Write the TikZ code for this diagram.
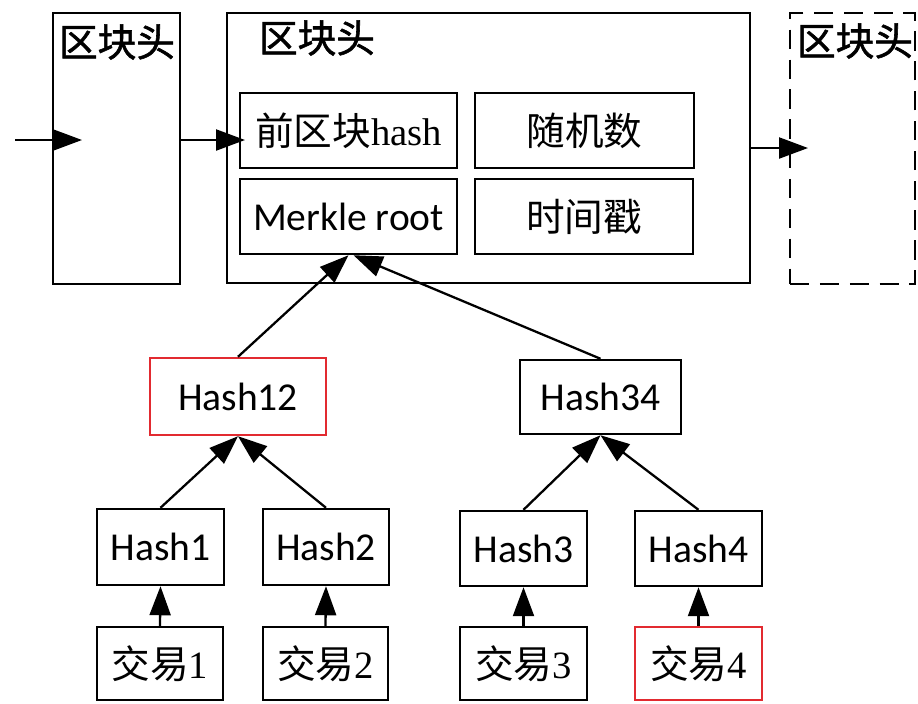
\documentclass[tikz,border=0pt]{standalone}
\usepackage{fontspec}
\setmainfont{Liberation Serif}
\setsansfont{Carlito}
\newfontfamily\cjk{Noto Sans CJK SC}
\newfontfamily\cjkhead[FakeBold=1.5]{Noto Sans CJK SC}
\usetikzlibrary{arrows.meta}
\definecolor{hilite}{RGB}{226,42,48}
\begin{document}
\begin{tikzpicture}[
    blk/.style 2 args={draw,line width=1.4pt,inner sep=0pt,
      minimum width=#1*0.02cm,minimum height=#2*0.02cm,
      font=\sffamily\fontsize{22.5}{26}\selectfont},
    tx/.style={font=\rmfamily\fontsize{22}{26}\selectfont},
    head/.style={inner sep=0pt,font=\cjkhead\fontsize{22}{26}\selectfont},
    arr/.style={-{Triangle[length=0.58cm,width=0.42cm]},line width=1.3pt}]
    \def\x{0.02}
    \def\y{-0.02}
    \useasboundingbox (0,0) rectangle (918*\x, 703*\y);
    % block headers
    \node [blk={127}{271}] (A0_0) at (116.5*\x, 148.5*\y) {};
    \node [blk={523}{270}] (A0_1) at (488.5*\x, 148*\y) {};
    \node [blk={125}{271},dash pattern=on 11pt off 6pt] (A0_2) at (852.5*\x, 148.5*\y) {};
    \node [head] (T0_0) at (117*\x, 42*\y) {区块头};
    \node [head] (T0_1) at (317*\x, 38*\y) {区块头};
    \node [head] (T0_2) at (855*\x, 41*\y) {区块头};
    % fields
    \node [blk={217}{75},tx] (A1_0) at (348.5*\x, 130.5*\y) {{\cjk 前区块}hash};
    \node [blk={219}{75}] (A1_1) at (584.5*\x, 130.5*\y) {\cjk\fontsize{22}{26}\selectfont 随机数};
    \node [blk={217}{75}] (A2_0) at (348.5*\x, 216.5*\y) {Merkle root};
    \node [blk={218}{75}] (A2_1) at (584*\x, 216.5*\y) {\cjk\fontsize{22}{26}\selectfont 时间戳};
    % tree
    \node [blk={176}{77},draw=hilite] (A3_0) at (238*\x, 396.5*\y) {Hash12};
    \node [blk={161}{74}] (A3_1) at (600.5*\x, 397*\y) {Hash34};
    \node [blk={127}{76}] (A4_0) at (160.5*\x, 547*\y) {Hash1};
    \node [blk={126}{76}] (A4_1) at (326*\x, 547*\y) {Hash2};
    \node [blk={127}{75}] (A4_2) at (523.5*\x, 548.5*\y) {Hash3};
    \node [blk={127}{75}] (A4_3) at (698.5*\x, 548.5*\y) {Hash4};
    \node [blk={126}{73},tx] (A5_0) at (160*\x, 663.5*\y) {{\cjk 交易}1};
    \node [blk={125}{73},tx] (A5_1) at (325.5*\x, 663.5*\y) {{\cjk 交易}2};
    \node [blk={127}{73},tx] (A5_2) at (523.5*\x, 663.5*\y) {{\cjk 交易}3};
    \node [blk={127}{73},tx,draw=hilite] (A5_3) at (698.5*\x, 663.5*\y) {{\cjk 交易}4};
    % chain
    \coordinate (c0) at (15*\x, 140*\y);
    \coordinate (c1) at (82*\x, 140*\y);
    \coordinate (c2) at (245*\x, 140*\y);
    \coordinate (c3) at (808*\x, 148*\y);
    \path (c0) edge [arr] (c1);
    \path (A0_0.east |- c2) edge [arr] (c2);
    \path (A0_1.east) edge [arr] (c3);
    \path (A3_0.north) edge [arr] (A2_0.south);
    \path (A3_1.north) edge [arr] ([xshift=0.1cm]A2_0.south);
    \foreach \i/\j in {0/0,1/0,2/1,3/1} {
      \path (A4_\i.north) edge [arr] (A3_\j.south);
      \path (A5_\i.north) edge [arr] (A4_\i.south);
    }
  \end{tikzpicture}
\end{document}
